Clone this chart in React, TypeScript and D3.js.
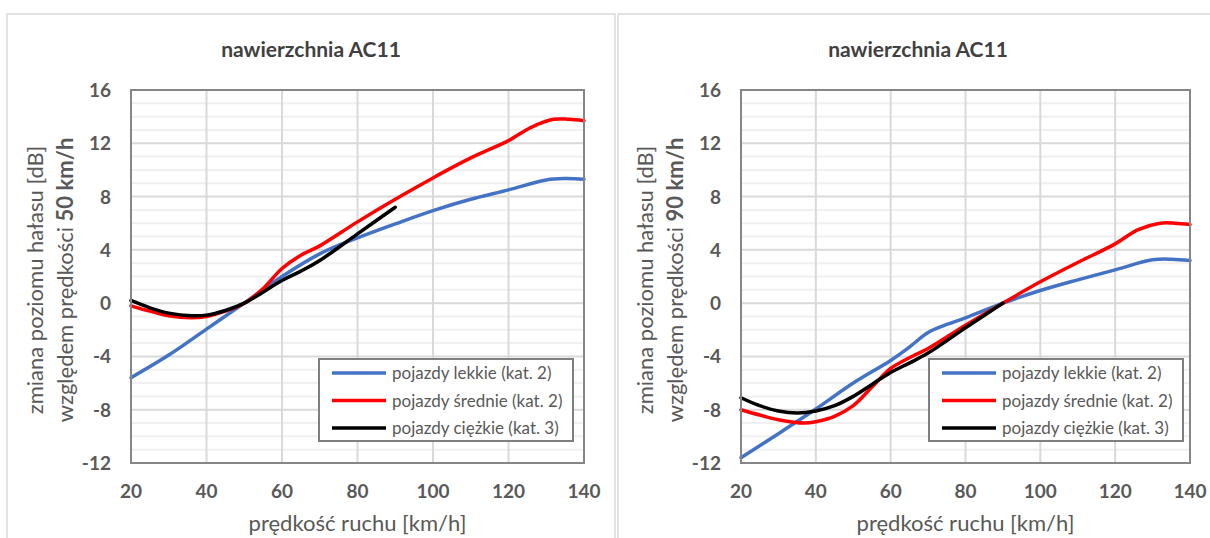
import React from 'react';
import * as d3 from 'd3';

// ---- data ----
const chartTitle = 'nawierzchnia AC11';
const xAxisTitle = 'prędkość ruchu [km/h]';
const yTitleLine1 = 'zmiana poziomu hałasu [dB]';
const yTitleLine2Prefix = 'względem prędkości ';
const leftRefSpeed = '50 km/h';
const rightRefSpeed = '90 km/h';

const speedTicks = [20, 40, 60, 80, 100, 120, 140];
const levelTicks = [-12, -8, -4, 0, 4, 8, 12, 16];
const minorLevels = [-11, -10, -9, -7, -6, -5, -3, -2, -1, 1, 2, 3, 5, 6, 7, 9, 10, 11, 13, 14, 15];

const seriesNames = ['pojazdy lekkie (kat. 2)', 'pojazdy średnie (kat. 2)', 'pojazdy ciężkie (kat. 3)'];
const seriesColors = ['#4472C4', '#FF0000', '#000000'];

// left chart: relative to 50 km/h
const leftLightSpeed = [20, 30, 40, 50, 60, 70, 80, 90, 100, 110, 120, 130, 135, 140];
const leftLightLevel = [-5.6, -3.9, -1.95, 0, 2.0, 3.7, 4.9, 5.95, 6.95, 7.8, 8.5, 9.25, 9.35, 9.3];
const leftMediumSpeed = [20, 25, 30, 36, 40, 45, 50, 55, 60, 65, 70, 80, 90, 100, 110, 120, 126, 132, 136, 140];
const leftMediumLevel = [-0.2, -0.6, -0.95, -1.1, -1.0, -0.6, 0, 1.1, 2.6, 3.6, 4.3, 6.1, 7.8, 9.4, 10.9, 12.2, 13.2, 13.8, 13.8, 13.7];
const leftHeavySpeed = [20, 25, 30, 36, 40, 45, 50, 60, 65, 70, 80, 90];
const leftHeavyLevel = [0.2, -0.35, -0.75, -0.95, -0.9, -0.55, 0, 1.7, 2.4, 3.2, 5.2, 7.2];

// right chart: relative to 90 km/h
const rightLightSpeed = [20, 30, 40, 50, 60, 65, 70, 75, 80, 90, 100, 110, 120, 130, 135, 140];
const rightLightLevel = [-11.6, -9.8, -7.95, -6.0, -4.3, -3.3, -2.2, -1.6, -1.1, 0, 0.95, 1.75, 2.5, 3.25, 3.3, 3.2];
const rightMediumSpeed = [20, 25, 30, 37, 40, 45, 50, 55, 60, 65, 70, 80, 90, 100, 110, 120, 126, 132, 136, 140];
const rightMediumLevel = [-8.0, -8.4, -8.75, -9.0, -8.9, -8.5, -7.7, -6.3, -4.9, -4.1, -3.4, -1.65, 0, 1.6, 3.05, 4.45, 5.5, 6.0, 6.0, 5.9];
const rightHeavySpeed = [20, 25, 30, 35, 40, 45, 50, 55, 60, 65, 70, 80, 90];
const rightHeavyLevel = [-7.1, -7.7, -8.1, -8.25, -8.1, -7.7, -7.0, -6.1, -5.2, -4.5, -3.75, -1.85, 0];

const FONT = "Lato, 'Open Sans', sans-serif";

type Series = { xs: number[]; ys: number[] };

function Chart(props: {
  panelX: number;
  panelW: number;
  plotX0: number;
  plotX1: number;
  refSpeed: string;
  series: Series[];
}) {
  const { panelX, panelW, plotX0, plotX1, refSpeed, series } = props;
  const plotY0 = 90;
  const plotY1 = 463;
  const x = d3.scaleLinear().domain([20, 140]).range([plotX0, plotX1]);
  const y = d3.scaleLinear().domain([-12, 16]).range([plotY1, plotY0]);
  const line = d3
    .line<[number, number]>()
    .x((d) => x(d[0]))
    .y((d) => y(d[1]))
    .curve(d3.curveCatmullRom.alpha(0.5));

  const cx = (plotX0 + plotX1) / 2;
  const titleCy = 280;
  const legX = plotX0 + 188;
  const legY = 359;
  const legW = 254;
  const legH = 82;

  return (
    <g>
      <rect x={panelX} y={14} width={panelW} height={560} fill="#fff" stroke="#d9d9d9" strokeWidth={1.5} />
      <text x={panelX + panelW / 2} y={57} textAnchor="middle" fontFamily={FONT} fontWeight="bold" fontSize={21} fill="#404040">
        {chartTitle}
      </text>
      {/* minor grid */}
      {minorLevels.map((v) => (
        <line key={'m' + v} x1={plotX0} x2={plotX1} y1={y(v)} y2={y(v)} stroke="#f0f0f0" strokeWidth={2} />
      ))}
      {/* major grid */}
      {levelTicks.map((v) => (
        <line key={'h' + v} x1={plotX0} x2={plotX1} y1={y(v)} y2={y(v)} stroke="#d9d9d9" strokeWidth={2} />
      ))}
      {speedTicks.map((v) => (
        <line key={'v' + v} x1={x(v)} x2={x(v)} y1={plotY0} y2={plotY1} stroke="#d9d9d9" strokeWidth={2} />
      ))}
      {/* series */}
      {series.map((s, i) => (
        <path
          key={'s' + i}
          d={line(s.xs.map((v, j) => [v, s.ys[j]] as [number, number])) || ''}
          fill="none"
          stroke={seriesColors[i]}
          strokeWidth={3.5}
          strokeLinejoin="round"
          strokeLinecap="round"
        />
      ))}
      {/* plot border */}
      <rect x={plotX0} y={plotY0} width={plotX1 - plotX0} height={plotY1 - plotY0} fill="none" stroke="#868686" strokeWidth={2} />
      {/* y ticks */}
      {levelTicks.map((v) => (
        <text key={'yt' + v} x={plotX0 - 20} y={y(v) + 7} textAnchor="end" fontFamily={FONT} fontWeight="bold" fontSize={19} fill="#595959">
          {v}
        </text>
      ))}
      {/* x ticks */}
      {speedTicks.map((v) => (
        <text key={'xt' + v} x={x(v)} y={498} textAnchor="middle" fontFamily={FONT} fontWeight="bold" fontSize={19} fill="#595959">
          {v}
        </text>
      ))}
      <text x={cx} y={531} textAnchor="middle" fontFamily={FONT} fontSize={22} fill="#595959">
        {xAxisTitle}
      </text>
      <text transform={`translate(${plotX0 - 88},${titleCy}) rotate(-90)`} textAnchor="middle" fontFamily={FONT} fontSize={22} fill="#595959">
        {yTitleLine1}
      </text>
      <text transform={`translate(${plotX0 - 58},${titleCy}) rotate(-90)`} textAnchor="middle" fontFamily={FONT} fontSize={22} fill="#595959">
        {yTitleLine2Prefix}
        <tspan fontWeight="bold">{refSpeed}</tspan>
      </text>
      {/* legend */}
      <rect x={legX} y={legY} width={legW} height={legH} fill="#fff" stroke="#7f7f7f" strokeWidth={2} />
      {seriesNames.map((name, i) => {
        const ly = legY + 14 + i * 27.5;
        return (
          <g key={'l' + i}>
            <line x1={legX + 13} x2={legX + 67} y1={ly} y2={ly} stroke={seriesColors[i]} strokeWidth={3.5} />
            <text x={legX + 73} y={ly + 6} fontFamily={FONT} fontSize={17} fill="#595959">
              {name}
            </text>
          </g>
        );
      })}
    </g>
  );
}

export default function App() {
  const leftSeries: Series[] = [
    { xs: leftLightSpeed, ys: leftLightLevel },
    { xs: leftMediumSpeed, ys: leftMediumLevel },
    { xs: leftHeavySpeed, ys: leftHeavyLevel },
  ];
  const rightSeries: Series[] = [
    { xs: rightLightSpeed, ys: rightLightLevel },
    { xs: rightMediumSpeed, ys: rightMediumLevel },
    { xs: rightHeavySpeed, ys: rightHeavyLevel },
  ];
  return (
    <svg width={1210} height={538} style={{ position: 'absolute', left: 0, top: 0, background: '#fff' }}>
      <rect x={0} y={0} width={1210} height={538} fill="#fff" />
      <Chart panelX={7} panelW={608} plotX0={131} plotX1={584} refSpeed={leftRefSpeed} series={leftSeries} />
      <Chart panelX={618} panelW={600} plotX0={741} plotX1={1190} refSpeed={rightRefSpeed} series={rightSeries} />
    </svg>
  );
}
